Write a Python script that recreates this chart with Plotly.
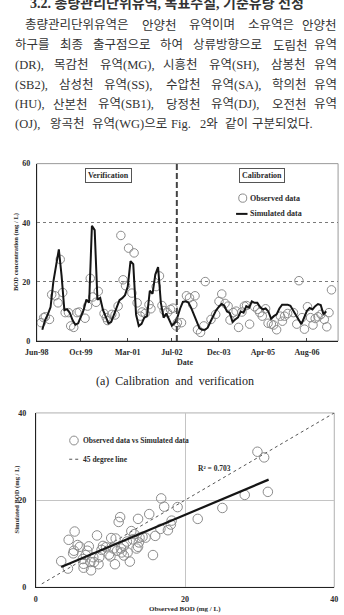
import plotly.graph_objects as go

# ---------------- data ----------------
# (a) time series: months counted from Jun-1998
sim_month = list(range(2, 106))
sim_bod = [3.8, 7.0, 9.0, 11.5, 20, 26, 31, 22, 10.5, 10.7,
           9.5, 7, 5.5, 6, 8, 10.5, 14, 13, 39, 37.5,
           14, 14.6, 10.5, 8, 6, 6.5, 9, 11.8, 13.8, 14.5,
           15.5, 18.4, 27, 26, 9, 5.1, 5.8, 7.9, 8.5, 17,
           16, 22.5, 25, 13, 7.9, 9.3, 7.5, 5.2, 6, 8,
           11, 13.2, 13.4, 13, 11.2, 8.6, 6.6, 4.3, 3.8, 3.8,
           4.5, 6.5, 8.5, 10.3, 11.5, 12.5, 12, 10, 9.5, 6.5,
           7.3, 8, 10, 9.6, 11.8, 11.3, 13.4, 12.9, 12.9, 11.5,
           10.7, 11, 10, 7.5, 8.4, 9, 11, 12.3, 12.3, 12.3,
           11.9, 10.2, 8.8, 7.2, 5.7, 7.8, 10.2, 11.2, 10.7, 11.8,
           12.5, 12.2, 9, 10]

obs_month = [1.6, 2.5, 3.1, 4.6, 5.4, 6.6, 7.7, 8.5, 9.4, 10.3,
             11.5, 12.3, 13.4, 14.6, 15.4, 17.5, 18.4, 19.4, 20.3, 21.5,
             22.3, 24.4, 25.2, 25.7, 27.2, 28.4, 29.5, 30.5, 31.3, 32.2,
             33.3, 34.5, 35.3, 36.4, 37.6, 38.2, 39.3, 40.7, 41.4, 43.3,
             44.5, 45.4, 46.2, 47.4, 48.5, 49.4, 50.5,
             51, 52.5, 54.3, 55.4, 56.6, 57.4, 58.3, 59.4, 60.6, 61.1,
             63.2, 64.9, 66.1, 67.1, 68.3, 69.4, 70.1, 71.3, 72.3, 73.2,
             74.4, 75.3, 76.1, 77.2, 79, 80.1, 80.9, 81.8, 83, 83.9,
             85.1, 85.9, 87, 88.4, 89.1, 89.9, 91, 93.1, 94.3, 95.1,
             96.2, 97.1, 98.2, 99.3, 100.2, 101, 102, 103.1, 104.3, 105.2,
             106, 106.9]
obs_bod = [6.2, 7.9, 8.2, 7.3, 15.7, 15.3, 12.9, 27.6, 16.4, 9.6,
           9.6, 5.1, 4.6, 9.6, 9.8, 7.7, 11.8, 21.2, 14.9, 13.1,
           16.8, 9.3, 7.9, 6.9, 9, 8.8, 11.8, 35.7, 20.7, 18.7,
           31.4, 16.2, 29.8, 12.9, 8.4, 9.8, 9.3, 12.3, 10.9, 18.4,
           22, 12, 10.3, 9.6, 10.7, 11.1, 5.1,
           6.2, 6.2, 15.3, 14.6, 12.3, 15.3, 3.8, 2.9, 5.1, 20.1,
           7.3, 9, 13.4, 15.9, 12.7, 11.8, 7.1, 9.6, 10.1, 4.6,
           9.8, 11.8, 12, 5.7, 11.6, 10.7, 9.6, 8.4, 10.9, 6,
           5.7, 5.4, 3.8, 8.4, 6.7, 8.4, 9.3, 9.6, 5.7, 20.4,
           7.9, 4, 11.6, 7.9, 5.4, 7.6, 8.2, 9, 7.3, 4.8,
           9.6, 17.3]

xtick_month = [0, 16, 33, 49, 66, 82, 98]
xtick_text = ["Jun-98", "Oct-99", "Mar-01", "Jul-02", "Dec-03", "Apr-05", "Aug-06"]
split_month = 50.8
ytick_a = [0, 20, 40, 60]

# (b) observed vs simulated scatter
sc_obs = [3.4, 4.4, 4.3, 5.0, 5.1, 5.2, 5.6, 5.9, 6.3, 6.4,
          6.4, 6.7, 6.9, 7.1, 7.3, 7.4, 7.7, 7.8, 8.2, 8.4,
          8.5, 8.8, 9.0, 9.4, 9.8, 10.0, 10.1, 10.4, 10.6, 10.7,
          10.9, 11.1, 11.3, 11.4, 11.5, 11.8, 11.8, 12.2, 12.3, 12.6,
          12.8, 13.0, 13.2, 13.5, 13.7, 13.7, 13.8, 13.9, 14.3, 14.7,
          15.2, 15.7, 16.0, 16.7, 16.8, 17.2, 17.7, 18.1, 18.2, 19.0,
          21.7, 25.0, 28.0, 29.7, 30.6, 31.1]
sc_sim = [6.0, 10.9, 4.3, 7.8, 8.4, 12.8, 9.7, 9.3, 6.5, 5.4,
          4.5, 7.4, 8.4, 9.4, 5.8, 3.9, 6.9, 5.8, 11.9, 5.3,
          6.9, 8.6, 9.5, 9.2, 7.5, 7.1, 11.3, 8.9, 5.3, 11.2,
          8.4, 15.0, 16.1, 8.9, 8.0, 9.5, 7.3, 10.5, 8.0, 5.9,
          12.9, 11.0, 12.2, 8.9, 15.7, 9.3, 10.3, 11.4, 11.6, 11.4,
          16.8, 7.4, 11.8, 13.4, 20.4, 18.5, 13.1, 14.4, 15.3, 18.4,
          15.7, 18.2, 21.2, 31.1, 29.8, 21.9]
line45 = [0.8, 40]
trend_x = [3.4, 31.2]
trend_y = [4.65, 24.7]
r2_text = "R² = 0.703"
ytick_b = [0, 20, 40]

# page text
heading = "3.2. 총량관리단위유역, 목표수질, 기준유량 선정"
para_lines = [
    ["총량관리단위유역은", "안양천", "유역이며", "소유역은", "안양천"],
    ["하구를", "최종", "출구점으로", "하여", "상류방향으로", "도림천", "유역"],
    ["(DR),", "목감천", "유역(MG),", "시흥천", "유역(SH),", "삼봉천", "유역"],
    ["(SB2),", "삼성천", "유역(SS),", "수압천", "유역(SA),", "학의천", "유역"],
    ["(HU),", "산본천", "유역(SB1),", "당정천", "유역(DJ),", "오전천", "유역"],
    ["(OJ),", "왕곡천", "유역(WG)으로", "Fig.", "2와", "같이", "구분되었다."],
]
caption = "(a)  Calibration  and  verification"

# ---------------- layout helpers ----------------
W, H = 344, 615
SERIF = "Liberation Serif, Noto Sans CJK KR, serif"
TXT = "#2b2b2b"


def px(x):
    return x / W


def py(y):
    return 1 - y / H


def est_w(s, fs):
    w = 0.0
    for ch in s:
        o = ord(ch)
        if 0xAC00 <= o <= 0xD7A3:
            w += 0.98 * fs
        elif ch.isupper():
            w += 0.70 * fs
        elif ch.islower():
            w += 0.46 * fs
        elif ch.isdigit():
            w += 0.5 * fs
        elif ch in "()":
            w += 0.333 * fs
        elif ch in ",.":
            w += 0.25 * fs
        else:
            w += 0.4 * fs
    return w


annotations = []


def ann(text, x, y, size=8, bold=True, xanchor="center", yanchor="middle",
        angle=0, color=TXT, **kw):
    annotations.append(dict(
        text=text, x=px(x), y=py(y), xref="paper", yref="paper",
        xanchor=xanchor, yanchor=yanchor, showarrow=False, textangle=angle,
        font=dict(family=SERIF, size=size, color=color,
                  weight="bold" if bold else "normal"), **kw))


# page heading (cut at the top, as on the scanned page) and justified paragraph
ann(heading, 163, -1, size=14, bold=True, color="#333")
FS = 12.5
line_y = [21.7, 41.7, 61.7, 81.7, 101.7, 121.7]
for i, toks in enumerate(para_lines):
    x0 = 12 if i == 0 else 1
    x1 = 318 if i == len(para_lines) - 1 else 343
    widths = [est_w(t, FS) for t in toks]
    gap = (x1 - x0 - sum(widths)) / (len(toks) - 1)
    cur = x0
    for j, (t, w) in enumerate(zip(toks, widths)):
        if j == len(toks) - 1:
            ann(t, x1, line_y[i], size=FS, bold=False, xanchor="right", color="#333")
        else:
            ann(t, cur, line_y[i], size=FS, bold=False, xanchor="left", color="#333")
        cur += w + gap

# ---------------- traces ----------------
fig = go.Figure()
fig.add_trace(go.Scatter(
    x=obs_month, y=obs_bod, mode="markers", xaxis="x", yaxis="y",
    marker=dict(symbol="circle-open", size=8.5, color="#8c8c8c",
                line=dict(width=1, color="#8c8c8c")),
    showlegend=False, hoverinfo="skip"))
fig.add_trace(go.Scatter(
    x=sim_month, y=sim_bod, mode="lines", xaxis="x", yaxis="y",
    line=dict(color="#151515", width=2), showlegend=False, hoverinfo="skip"))
fig.add_trace(go.Scatter(
    x=line45, y=line45, mode="lines", xaxis="x2", yaxis="y2",
    line=dict(color="#555", width=1, dash="dot"), showlegend=False, hoverinfo="skip"))
fig.add_trace(go.Scatter(
    x=sc_obs, y=sc_sim, mode="markers", xaxis="x2", yaxis="y2",
    marker=dict(symbol="circle-open", size=9.5, color="#8c8c8c",
                line=dict(width=1, color="#8c8c8c")),
    showlegend=False, hoverinfo="skip"))
fig.add_trace(go.Scatter(
    x=trend_x, y=trend_y, mode="lines", xaxis="x2", yaxis="y2",
    line=dict(color="#151515", width=2.2), showlegend=False, hoverinfo="skip"))

TICKF = dict(family=SERIF, size=8, color=TXT, weight="bold")

shapes = [
    # frames (top / right borders)
    dict(type="rect", xref="paper", yref="paper", x0=px(26), x1=px(342),
         y0=py(342), y1=py(162), line=dict(color="#9a9a9a", width=1), layer="below"),
    dict(type="rect", xref="paper", yref="paper", x0=px(25), x1=px(338),
         y0=py(592), y1=py(415), line=dict(color="#b0b0b0", width=1), layer="below"),
    # calibration / verification split
    dict(type="line", xref="x", yref="y", x0=split_month, x1=split_month,
         y0=0, y1=60, line=dict(color="#444", width=2, dash="6px,3px")),
    # legend (a)
    dict(type="circle", xref="paper", yref="paper", x0=px(237.8), x1=px(246.2),
         y0=py(201.2), y1=py(192.8), line=dict(color="#8c8c8c", width=1)),
    dict(type="line", xref="paper", yref="paper", x0=px(235), x1=px(247),
         y0=py(213), y1=py(213), line=dict(color="#151515", width=2)),
    # legend (b)
    dict(type="circle", xref="paper", yref="paper", x0=px(60.5), x1=px(69.5),
         y0=py(447.5), y1=py(438.5), line=dict(color="#8c8c8c", width=1)),
    dict(type="line", xref="paper", yref="paper", x0=px(60), x1=px(70),
         y0=py(462), y1=py(462), line=dict(color="#555", width=1, dash="dot")),
]

# chart (a) texts
ann("Verification", 101, 174, size=8, bordercolor="#555", borderwidth=1,
    borderpad=2, bgcolor="white")
ann("Calibration", 262, 174, size=8, bordercolor="#555", borderwidth=1,
    borderpad=2, bgcolor="white")
ann("Observed data", 247, 197, size=8, xanchor="left")
ann("Simulated data", 247, 213, size=8, xanchor="left")
ann("BOD concentration (mg / L)", 5, 252, size=6.5, angle=-90)
ann("Date", 181, 364, size=8)
ann(caption, 171, 383, size=12, bold=False, color="#222")

# chart (b) texts
ann("Observed data vs Simulated data", 72, 443, size=7.5, xanchor="left")
ann("45 degree line", 72, 462, size=7.5, xanchor="left")
ann(r2_text, 193, 471, size=7.5, xanchor="left")
ann("Simulated BOD (mg / L)", 5, 503, size=6.5, angle=-90)
ann("Observed BOD (mg / L)", 181, 614, size=7, borderpad=0)

fig.update_layout(
    width=W, height=H, margin=dict(l=0, r=0, t=0, b=0),
    paper_bgcolor="white", plot_bgcolor="white",
    showlegend=False,
    xaxis=dict(domain=[px(26), px(342)], range=[0, 109.3], anchor="y",
               tickvals=xtick_month, ticktext=xtick_text, showgrid=False,
               zeroline=False, showline=True, linecolor="#222", linewidth=1,
               ticks="inside", ticklen=3, tickcolor="#444", tickfont=TICKF,
               ticklabelstandoff=3, fixedrange=True),
    yaxis=dict(domain=[py(342), py(162)], range=[0, 60], anchor="x",
               tickvals=ytick_a, showgrid=True, gridcolor="#7a7a7a",
               griddash="dot", gridwidth=1, zeroline=False, showline=True,
               linecolor="#222", linewidth=1, ticks="", tickfont=TICKF,
               ticklabelstandoff=4, fixedrange=True),
    xaxis2=dict(domain=[px(25), px(338)], range=[0, 40], anchor="y2",
                tickvals=ytick_b, showgrid=True, gridcolor="#c4c4c4",
                zeroline=False, showline=True, linecolor="#222", linewidth=1,
                ticks="", tickfont=TICKF, ticklabelstandoff=4, fixedrange=True),
    yaxis2=dict(domain=[py(592), py(415)], range=[0, 40], anchor="x2",
                tickvals=ytick_b, showgrid=True, gridcolor="#c4c4c4",
                zeroline=False, showline=True, linecolor="#222", linewidth=1,
                ticks="", tickfont=TICKF, ticklabelstandoff=7, fixedrange=True),
    shapes=shapes,
    annotations=annotations,
)

fig.write_html("out.html", config={"displayModeBar": False})
